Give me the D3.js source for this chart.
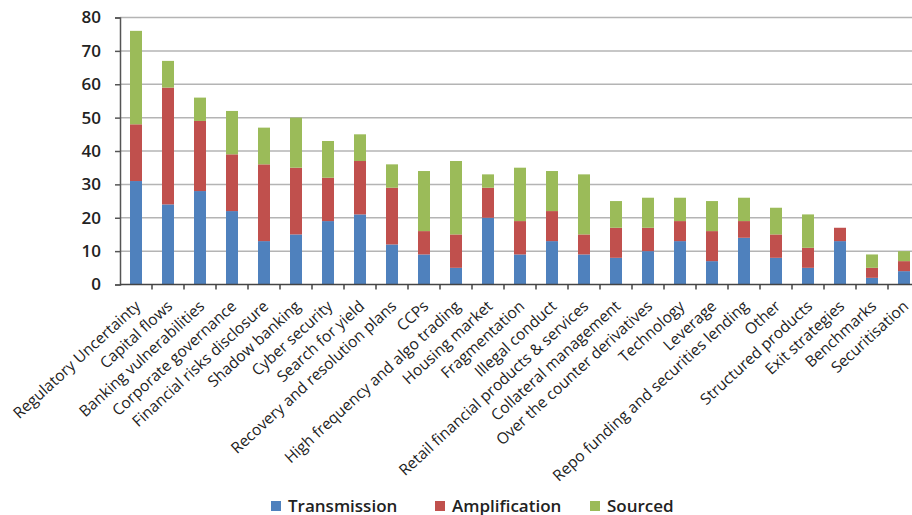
<!DOCTYPE html>
<html>
<head>
<meta charset="utf-8">
<script src="https://cdn.jsdelivr.net/npm/d3@7"></script>
<style>
  body { margin: 0; background: #fff; }
  text { font-family: "Open Sans", sans-serif; fill: #222; }
</style>
</head>
<body>
<script>
// Chart data
const categories = [
    "Regulatory Uncertainty", "Capital flows", "Banking vulnerabilities", "Corporate governance",
    "Financial risks disclosure", "Shadow banking", "Cyber security", "Search for yield",
    "Recovery and resolution plans", "CCPs", "High frequency and algo trading", "Housing market",
    "Fragmentation", "Illegal conduct", "Retail financial products & services", "Collateral management",
    "Over the counter derivatives", "Technology", "Leverage", "Repo funding and securities lending",
    "Other", "Structured products", "Exit strategies", "Benchmarks", "Securitisation"
];
const transmission = [31, 24, 28, 22, 13, 15, 19, 21, 12, 9, 5, 20, 9, 13, 9, 8, 10, 13, 7, 14, 8, 5, 13, 2, 4];
const amplification = [17, 35, 21, 17, 23, 20, 13, 16, 17, 7, 10, 9, 10, 9, 6, 9, 7, 6, 9, 5, 7, 6, 4, 3, 3];
const sourced = [28, 8, 7, 13, 11, 15, 11, 8, 7, 18, 22, 4, 16, 12, 18, 8, 9, 7, 9, 7, 8, 10, 0, 4, 3];
const seriesNames = ["Transmission", "Amplification", "Sourced"];
const yTicks = [0, 10, 20, 30, 40, 50, 60, 70, 80];

const colors = ["#4F81BD", "#C0504D", "#9BBB59"];

// Set up chart dimensions
const margin = { top: 17.5, left: 120 };
const width = 800;
const height = 267;

const svg = d3.select("body")
    .append("svg")
    .attr("width", 912)
    .attr("height", 515);

const g = svg.append("g")
    .attr("transform", `translate(${margin.left},${margin.top})`);

// Build rows for the stack
const rows = categories.map((c, i) => ({
    category: c,
    Transmission: transmission[i],
    Amplification: amplification[i],
    Sourced: sourced[i]
}));
const stacked = d3.stack().keys(seriesNames)(rows);

// Scales
const xScale = d3.scaleBand()
    .domain(categories)
    .range([0, width]);

const yScale = d3.scaleLinear()
    .domain([0, 80])
    .range([height, 0]);

// Gridlines
g.append("g")
    .selectAll("line")
    .data(yTicks.slice(1))
    .enter()
    .append("line")
    .attr("x1", 0)
    .attr("x2", width)
    .attr("y1", d => yScale(d))
    .attr("y2", d => yScale(d))
    .attr("stroke", "#b4b4b4")
    .attr("stroke-width", 1.5);

// Bars
const barWidth = 12;
g.selectAll(".series")
    .data(stacked)
    .enter()
    .append("g")
    .attr("class", "series")
    .attr("fill", (d, i) => colors[i])
    .selectAll("rect")
    .data(d => d)
    .enter()
    .append("rect")
    .attr("x", d => xScale(d.data.category) + xScale.bandwidth() / 2 - barWidth / 2)
    .attr("y", d => yScale(d[1]))
    .attr("width", barWidth)
    .attr("height", d => yScale(d[0]) - yScale(d[1]));

// Y axis
const yAxis = d3.axisLeft(yScale).tickValues(yTicks).tickSize(5).tickPadding(14);
const yG = g.append("g").call(yAxis);
yG.select(".domain").attr("stroke", "#555").attr("stroke-width", 1.5);
yG.selectAll(".tick line").attr("stroke", "#555").attr("stroke-width", 1.5);
yG.selectAll(".tick text")
    .style("font-family", "'Open Sans', sans-serif")
    .style("font-size", "17px")
    .style("font-weight", "600")
    .attr("fill", "#1e1e2a");

// X axis line and ticks at band edges
const xG = g.append("g").attr("transform", `translate(0,${height})`);
xG.append("line")
    .attr("x1", 0)
    .attr("x2", width)
    .attr("stroke", "#444")
    .attr("stroke-width", 1.5);
xG.selectAll(".xtick")
    .data(categories)
    .enter()
    .append("line")
    .attr("class", "xtick")
    .attr("x1", d => xScale(d) + xScale.bandwidth())
    .attr("x2", d => xScale(d) + xScale.bandwidth())
    .attr("y1", 0)
    .attr("y2", 5)
    .attr("stroke", "#444")
    .attr("stroke-width", 1.5);

// X labels, rotated
xG.selectAll(".xlabel")
    .data(categories)
    .enter()
    .append("text")
    .attr("class", "xlabel")
    .attr("text-anchor", "end")
    .attr("transform", d => `translate(${xScale(d) + xScale.bandwidth() / 2 + 5.5},${23}) rotate(-42.5)`)
    .style("font-size", "15.5px")
    .attr("fill", "#333")
    .text(d => d);

// Legend
const legendX = [271, 435, 590];
const legend = svg.append("g");
seriesNames.forEach((name, i) => {
    legend.append("rect")
        .attr("x", legendX[i])
        .attr("y", 501)
        .attr("width", 10)
        .attr("height", 10)
        .attr("fill", colors[i]);
    legend.append("text")
        .attr("x", legendX[i] + 17)
        .attr("y", 511.5)
        .style("font-size", "17px")
        .style("font-weight", "600")
        .attr("fill", "#1e1e2a")
        .text(name);
});
</script>
</body>
</html>
